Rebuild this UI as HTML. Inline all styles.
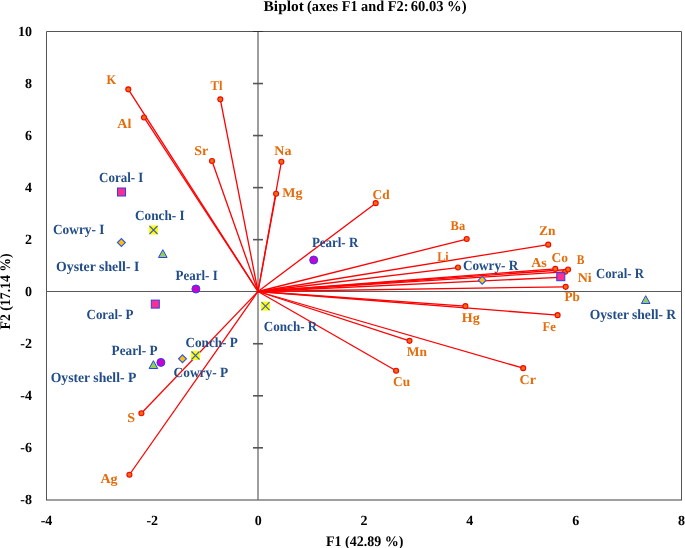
<!DOCTYPE html>
<html><head><meta charset="utf-8"><style>
html,body{margin:0;padding:0;background:#fff;}
svg{display:block;will-change:transform;}
text{text-rendering:geometricPrecision;font-family:"Liberation Serif",serif;font-weight:bold;font-size:14px;}
.o{fill:#e46c0a;font-size:13.5px;}
.b{fill:#214c88;}
.k{fill:#000;font-size:14px;}
</style></head><body>
<svg width="685" height="548" viewBox="0 0 685 548">
<path d="M46.5 500V31.5H681.5V500" fill="none" stroke="#555" stroke-width="1"/>
<line x1="46" y1="500" x2="682" y2="500" stroke="#404040" stroke-width="1.2"/>
<line x1="46" y1="291.5" x2="681" y2="291.5" stroke="#5a5a5a" stroke-width="1"/>
<line x1="258" y1="31" x2="258" y2="500" stroke="#6a6a6a" stroke-width="1.3"/>
<line x1="253" y1="447.82" x2="263" y2="447.82" stroke="#555" stroke-width="1.6"/>
<line x1="253" y1="395.78" x2="263" y2="395.78" stroke="#555" stroke-width="1.6"/>
<line x1="253" y1="343.74" x2="263" y2="343.74" stroke="#555" stroke-width="1.6"/>
<line x1="253" y1="239.66" x2="263" y2="239.66" stroke="#555" stroke-width="1.6"/>
<line x1="253" y1="187.62" x2="263" y2="187.62" stroke="#555" stroke-width="1.6"/>
<line x1="253" y1="135.58" x2="263" y2="135.58" stroke="#555" stroke-width="1.6"/>
<line x1="253" y1="83.54" x2="263" y2="83.54" stroke="#555" stroke-width="1.6"/>
<line x1="253" y1="31.50" x2="263" y2="31.50" stroke="#333" stroke-width="1"/>
<line x1="258.0" y1="291.5" x2="128.3" y2="89.35000000000001" stroke="#ff0000" stroke-width="1.3"/>
<line x1="258.0" y1="291.5" x2="144" y2="117.45" stroke="#ff0000" stroke-width="1.3"/>
<line x1="258.0" y1="291.5" x2="220.3" y2="99.35000000000001" stroke="#ff0000" stroke-width="1.3"/>
<line x1="258.0" y1="291.5" x2="212" y2="160.95" stroke="#ff0000" stroke-width="1.3"/>
<line x1="258.0" y1="291.5" x2="281.4" y2="161.75" stroke="#ff0000" stroke-width="1.3"/>
<line x1="258.0" y1="291.5" x2="276.1" y2="193.75" stroke="#ff0000" stroke-width="1.3"/>
<line x1="258.0" y1="291.5" x2="375.7" y2="203.14999999999998" stroke="#ff0000" stroke-width="1.3"/>
<line x1="258.0" y1="291.5" x2="466.7" y2="239.04999999999998" stroke="#ff0000" stroke-width="1.3"/>
<line x1="258.0" y1="291.5" x2="548.2" y2="244.64999999999998" stroke="#ff0000" stroke-width="1.3"/>
<line x1="258.0" y1="291.5" x2="458" y2="267.55" stroke="#ff0000" stroke-width="1.3"/>
<line x1="258.0" y1="291.5" x2="555.3" y2="268.9" stroke="#ff0000" stroke-width="1.3"/>
<line x1="258.0" y1="291.5" x2="565.2" y2="271.8" stroke="#ff0000" stroke-width="1.3"/>
<line x1="258.0" y1="291.5" x2="568.1" y2="269.5" stroke="#ff0000" stroke-width="1.3"/>
<line x1="258.0" y1="291.5" x2="559.5" y2="277.3" stroke="#ff0000" stroke-width="1.3"/>
<line x1="258.0" y1="291.5" x2="565.7" y2="286.84999999999997" stroke="#ff0000" stroke-width="1.3"/>
<line x1="258.0" y1="291.5" x2="465.4" y2="306.15" stroke="#ff0000" stroke-width="1.3"/>
<line x1="258.0" y1="291.5" x2="557.6" y2="315.15" stroke="#ff0000" stroke-width="1.3"/>
<line x1="258.0" y1="291.5" x2="409.5" y2="340.84999999999997" stroke="#ff0000" stroke-width="1.3"/>
<line x1="258.0" y1="291.5" x2="396.1" y2="370.75" stroke="#ff0000" stroke-width="1.3"/>
<line x1="258.0" y1="291.5" x2="523.2" y2="368.15" stroke="#ff0000" stroke-width="1.3"/>
<line x1="258.0" y1="291.5" x2="141.4" y2="413.25" stroke="#ff0000" stroke-width="1.3"/>
<line x1="258.0" y1="291.5" x2="129.4" y2="474.75" stroke="#ff0000" stroke-width="1.3"/>
<circle cx="128.3" cy="89.35000000000001" r="2.5" fill="#e2700f" stroke="#ff0000" stroke-width="1.1"/>
<circle cx="144" cy="117.45" r="2.5" fill="#e2700f" stroke="#ff0000" stroke-width="1.1"/>
<circle cx="220.3" cy="99.35000000000001" r="2.5" fill="#e2700f" stroke="#ff0000" stroke-width="1.1"/>
<circle cx="212" cy="160.95" r="2.5" fill="#e2700f" stroke="#ff0000" stroke-width="1.1"/>
<circle cx="281.4" cy="161.75" r="2.5" fill="#e2700f" stroke="#ff0000" stroke-width="1.1"/>
<circle cx="276.1" cy="193.75" r="2.5" fill="#e2700f" stroke="#ff0000" stroke-width="1.1"/>
<circle cx="375.7" cy="203.14999999999998" r="2.5" fill="#e2700f" stroke="#ff0000" stroke-width="1.1"/>
<circle cx="466.7" cy="239.04999999999998" r="2.5" fill="#e2700f" stroke="#ff0000" stroke-width="1.1"/>
<circle cx="548.2" cy="244.64999999999998" r="2.5" fill="#e2700f" stroke="#ff0000" stroke-width="1.1"/>
<circle cx="458" cy="267.55" r="2.5" fill="#e2700f" stroke="#ff0000" stroke-width="1.1"/>
<circle cx="555.3" cy="268.9" r="2.5" fill="#e2700f" stroke="#ff0000" stroke-width="1.1"/>
<circle cx="565.2" cy="271.8" r="2.5" fill="#e2700f" stroke="#ff0000" stroke-width="1.1"/>
<circle cx="568.1" cy="269.5" r="2.5" fill="#e2700f" stroke="#ff0000" stroke-width="1.1"/>
<circle cx="559.5" cy="277.3" r="2.5" fill="#e2700f" stroke="#ff0000" stroke-width="1.1"/>
<circle cx="565.7" cy="286.84999999999997" r="2.5" fill="#e2700f" stroke="#ff0000" stroke-width="1.1"/>
<circle cx="465.4" cy="306.15" r="2.5" fill="#e2700f" stroke="#ff0000" stroke-width="1.1"/>
<circle cx="557.6" cy="315.15" r="2.5" fill="#e2700f" stroke="#ff0000" stroke-width="1.1"/>
<circle cx="409.5" cy="340.84999999999997" r="2.5" fill="#e2700f" stroke="#ff0000" stroke-width="1.1"/>
<circle cx="396.1" cy="370.75" r="2.5" fill="#e2700f" stroke="#ff0000" stroke-width="1.1"/>
<circle cx="523.2" cy="368.15" r="2.5" fill="#e2700f" stroke="#ff0000" stroke-width="1.1"/>
<circle cx="141.4" cy="413.25" r="2.5" fill="#e2700f" stroke="#ff0000" stroke-width="1.1"/>
<circle cx="129.4" cy="474.75" r="2.5" fill="#e2700f" stroke="#ff0000" stroke-width="1.1"/>
<rect x="117.5" y="188.0" width="8" height="8" fill="#ff2d8e" stroke="#2a3ff0" stroke-width="1"/>
<rect x="149.0" y="225.5" width="9" height="9" fill="#ffff00"/><path d="M149.5 226.0L157.5 234.0M157.5 226.0L149.5 234.0" stroke="#3a5cc8" stroke-width="1.1" fill="none"/>
<path d="M121.4 238.7L125.3 242.6L121.4 246.5L117.5 242.6Z" fill="#ffc000" stroke="#2f55f0" stroke-width="1.2"/>
<path d="M162.8 249.7L167.1 257.5L158.5 257.5Z" fill="#92d050" stroke="#2a3ff0" stroke-width="1"/>
<circle cx="195.9" cy="289.0" r="4" fill="#cc00cc" stroke="#2a3ff0" stroke-width="1"/>
<circle cx="313.7" cy="260.0" r="4" fill="#cc00cc" stroke="#2a3ff0" stroke-width="1"/>
<path d="M482.2 276.3L486.1 280.2L482.2 284.1L478.3 280.2Z" fill="#ffc000" stroke="#2f55f0" stroke-width="1.2"/>
<rect x="556.8" y="272.7" width="8" height="8" fill="#ff2d8e" stroke="#2a3ff0" stroke-width="1"/>
<path d="M645.7 295.7L650.0 303.5L641.4 303.5Z" fill="#92d050" stroke="#2a3ff0" stroke-width="1"/>
<rect x="261.0" y="301.6" width="9" height="9" fill="#ffff00"/><path d="M261.5 302.1L269.5 310.1M269.5 302.1L261.5 310.1" stroke="#3a5cc8" stroke-width="1.1" fill="none"/>
<rect x="151.3" y="300.1" width="8" height="8" fill="#ff2d8e" stroke="#2a3ff0" stroke-width="1"/>
<circle cx="160.9" cy="362.4" r="4" fill="#cc00cc" stroke="#2a3ff0" stroke-width="1"/>
<rect x="191.0" y="351.0" width="9" height="9" fill="#ffff00"/><path d="M191.5 351.5L199.5 359.5M199.5 351.5L191.5 359.5" stroke="#3a5cc8" stroke-width="1.1" fill="none"/>
<path d="M182.5 354.9L186.4 358.8L182.5 362.7L178.6 358.8Z" fill="#ffc000" stroke="#2f55f0" stroke-width="1.2"/>
<path d="M153.4 360.7L157.7 368.5L149.1 368.5Z" fill="#92d050" stroke="#2a3ff0" stroke-width="1"/>
<text x="106.9" y="84.0" class="o" transform="matrix(0.913 0 0 1 8.89 0.2)">K</text>
<text x="118.2" y="128.0" class="o" transform="matrix(1.037 0 0 1 -5.22 0.0)">Al</text>
<text x="211.7" y="89.7" class="o" transform="matrix(0.933 0 0 1 13.11 0.0)">Tl</text>
<text x="195.2" y="154.4" class="o" transform="matrix(1.037 0 0 1 -8.09 0.3)">Sr</text>
<text x="274.2" y="155.0" class="o" transform="matrix(1.037 0 0 1 -10.05 0.0)">Na</text>
<text x="282.6" y="197.0" class="o" transform="matrix(1.037 0 0 1 -10.82 0.3)">Mg</text>
<text x="373" y="198.7" class="o" transform="matrix(0.985 0 0 1 5.13 0.0)">Cd</text>
<text x="450.8" y="229.5" class="o" transform="matrix(0.923 0 0 1 34.49 0.0)">Ba</text>
<text x="539.7" y="234.9" class="o" transform="matrix(0.996 0 0 1 1.59 0.4)">Zn</text>
<text x="437.9" y="260.3" class="o" transform="matrix(0.892 0 0 1 46.71 0.9)">Li</text>
<text x="532" y="266.0" class="o" transform="matrix(1.037 0 0 1 -20.48 0.85)">As</text>
<text x="551.8" y="261.0" class="o" transform="matrix(0.996 0 0 1 1.89 0.85)">Co</text>
<text x="577" y="263.0" class="o" transform="matrix(0.85 0 0 1 86.30 0.85)">B</text>
<text x="578" y="281.3" class="o" transform="matrix(1.037 0 0 1 -21.64 0.9)">Ni</text>
<text x="564.7" y="300.6" class="o" transform="matrix(0.975 0 0 1 13.88 0.3)">Pb</text>
<text x="462.9" y="321.5" class="o" transform="matrix(1.037 0 0 1 -18.26 0.3)">Hg</text>
<text x="543.2" y="330.1" class="o" transform="matrix(0.933 0 0 1 35.78 0.8)">Fe</text>
<text x="407.3" y="355.8" class="o" transform="matrix(0.996 0 0 1 1.07 0.6)">Mn</text>
<text x="393.8" y="385.7" class="o" transform="matrix(0.985 0 0 1 5.20 0.2)">Cu</text>
<text x="520.4" y="383.1" class="o" transform="matrix(1.037 0 0 1 -20.05 0.5)">Cr</text>
<text x="127.5" y="421.4" class="o" transform="matrix(1.037 0 0 1 -4.85 0.5)">S</text>
<text x="100.7" y="483.0" class="o" transform="matrix(1.037 0 0 1 -4.03 0.0)">Ag</text>
<text x="99.10000000000001" y="181.5" class="b" textLength="44.3" lengthAdjust="spacingAndGlyphs">Coral- I</text>
<text x="135.10000000000002" y="219.9" class="b" textLength="49.5" lengthAdjust="spacingAndGlyphs">Conch- I</text>
<text x="53.0" y="234.2" class="b" textLength="51.4" lengthAdjust="spacingAndGlyphs">Cowry- I</text>
<text x="56.0" y="270.8" class="b" textLength="83.3" lengthAdjust="spacingAndGlyphs">Oyster shell- I</text>
<text x="175.6" y="279.7" class="b" textLength="42.1" lengthAdjust="spacingAndGlyphs">Pearl- I</text>
<text x="311.9" y="246.7" class="b" textLength="46.4" lengthAdjust="spacingAndGlyphs">Pearl- R</text>
<text x="462.9" y="270.3" class="b" textLength="55.5" lengthAdjust="spacingAndGlyphs">Cowry- R</text>
<text x="596.0" y="278.0" class="b" textLength="47.9" lengthAdjust="spacingAndGlyphs">Coral- R</text>
<text x="589.8" y="318.7" class="b" textLength="86.3" lengthAdjust="spacingAndGlyphs">Oyster shell- R</text>
<text x="263.8" y="331.2" class="b" textLength="53.5" lengthAdjust="spacingAndGlyphs">Conch- R</text>
<text x="86.60000000000001" y="319.1" class="b" textLength="46.9" lengthAdjust="spacingAndGlyphs">Coral- P</text>
<text x="111.6" y="355.0" class="b" textLength="45.9" lengthAdjust="spacingAndGlyphs">Pearl- P</text>
<text x="185.4" y="347.2" class="b" textLength="52.5" lengthAdjust="spacingAndGlyphs">Conch- P</text>
<text x="173.6" y="377.4" class="b" textLength="54.5" lengthAdjust="spacingAndGlyphs">Cowry- P</text>
<text x="50.7" y="382.4" class="b" textLength="85.6" lengthAdjust="spacingAndGlyphs">Oyster shell- P</text>
<text x="32" y="503.7" class="k" text-anchor="end">-8</text>
<text x="32" y="451.7" class="k" text-anchor="end">-6</text>
<text x="32" y="399.7" class="k" text-anchor="end">-4</text>
<text x="32" y="347.7" class="k" text-anchor="end">-2</text>
<text x="32" y="295.7" class="k" text-anchor="end">0</text>
<text x="32" y="243.7" class="k" text-anchor="end">2</text>
<text x="32" y="191.7" class="k" text-anchor="end">4</text>
<text x="32" y="139.7" class="k" text-anchor="end">6</text>
<text x="32" y="87.7" class="k" text-anchor="end">8</text>
<text x="32" y="35.7" class="k" text-anchor="end">10</text>
<text x="46.5" y="524.5" class="k" text-anchor="middle">-4</text>
<text x="152.3" y="524.5" class="k" text-anchor="middle">-2</text>
<text x="258.2" y="524.5" class="k" text-anchor="middle">0</text>
<text x="364.0" y="524.5" class="k" text-anchor="middle">2</text>
<text x="469.8" y="524.5" class="k" text-anchor="middle">4</text>
<text x="575.7" y="524.5" class="k" text-anchor="middle">6</text>
<text x="681.5" y="524.5" class="k" text-anchor="middle">8</text>
<text x="263.6" y="10.6" class="k" textLength="40.2" lengthAdjust="spacingAndGlyphs" style="font-size:15px">Biplot</text>
<text x="307.1" y="10.6" class="k" textLength="101.3" lengthAdjust="spacingAndGlyphs" style="font-size:15px">(axes F1 and F2:</text>
<text x="410.7" y="10.6" class="k" textLength="55.8" lengthAdjust="spacingAndGlyphs" style="font-size:15px">60.03 %)</text>
<text x="326" y="545.8" class="k" textLength="77.4" lengthAdjust="spacingAndGlyphs" style="font-size:14.6px">F1 (42.89 %)</text>
<text transform="translate(10.4 329.4) rotate(-90)" x="0" y="0" class="k" textLength="76" lengthAdjust="spacingAndGlyphs" style="font-size:14.6px">F2 (17.14 %)</text>
</svg>
</body></html>
